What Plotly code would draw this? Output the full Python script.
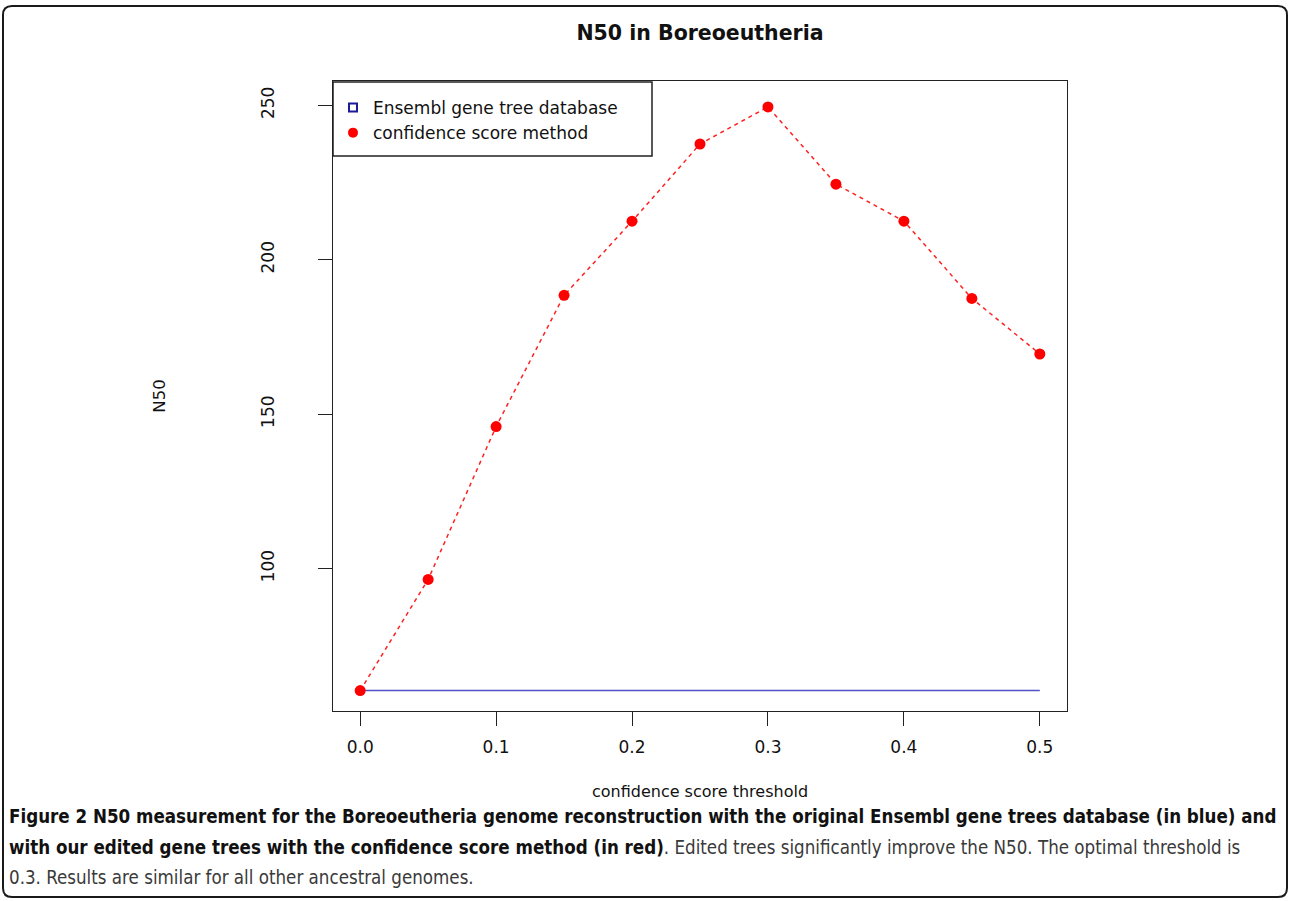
import plotly.graph_objects as go

# ---- data ----
thresholds = [0.0, 0.05, 0.1, 0.15, 0.2, 0.25, 0.3, 0.35, 0.4, 0.45, 0.5]
confidence_n50 = [60.5, 96.5, 146.0, 188.5, 212.5, 237.5, 249.5, 224.5, 212.5, 187.5, 169.5]
ensembl_x = [0.0, 0.5]
ensembl_n50 = [60.5, 60.5]
x_ticks = [0.0, 0.1, 0.2, 0.3, 0.4, 0.5]
x_tick_labels = ["0.0", "0.1", "0.2", "0.3", "0.4", "0.5"]
y_ticks = [100, 150, 200, 250]
y_tick_labels = ["100", "150", "200", "250"]
legend_names = ["Ensembl gene tree database", "confidence score method"]

W, H = 1290, 901
L, R, T, B = 333, 1067, 81, 711
FONT = "DejaVu Sans"

def px_x(p):
    return (p - L) / (R - L)

def px_y(p):
    return (B - p) / (B - T)

fig = go.Figure()

fig.add_trace(go.Scatter(x=ensembl_x, y=ensembl_n50, mode="lines",
                         line=dict(color="#5252c8", width=1.5), showlegend=False,
                         hoverinfo="skip"))
fig.add_trace(go.Scatter(x=thresholds, y=confidence_n50, mode="lines+markers",
                         line=dict(color="#ff2020", width=1.5, dash="4px,4px"),
                         marker=dict(color="#ff0000", size=11), showlegend=False))
# legend-only entries
fig.add_trace(go.Scatter(x=[None], y=[None], mode="markers", name=legend_names[0],
                         marker=dict(symbol="square-open", color="#1a1a9a", size=8,
                                     line=dict(width=2))))
fig.add_trace(go.Scatter(x=[None], y=[None], mode="markers", name=legend_names[1],
                         marker=dict(symbol="circle", color="#ff0000", size=10)))

shapes = []
# legend box
shapes.append(dict(type="rect", xref="paper", yref="paper",
                   x0=px_x(333), x1=px_x(652), y0=px_y(82), y1=px_y(156),
                   line=dict(color="#222", width=1.5), fillcolor="rgba(0,0,0,0)"))
# outer rounded frame
r = 9
x0, x1, y0, y1 = 3, 1287, 6, 897
path = (f"M {px_x(x0)},{px_y(y0 + r)} "
        f"Q {px_x(x0)},{px_y(y0)} {px_x(x0 + r)},{px_y(y0)} "
        f"L {px_x(x1 - r)},{px_y(y0)} "
        f"Q {px_x(x1)},{px_y(y0)} {px_x(x1)},{px_y(y0 + r)} "
        f"L {px_x(x1)},{px_y(y1 - r)} "
        f"Q {px_x(x1)},{px_y(y1)} {px_x(x1 - r)},{px_y(y1)} "
        f"L {px_x(x0 + r)},{px_y(y1)} "
        f"Q {px_x(x0)},{px_y(y1)} {px_x(x0)},{px_y(y1 - r)} Z")
shapes.append(dict(type="path", xref="paper", yref="paper", path=path,
                   line=dict(color="#1a1a1a", width=2)))

CAP = "DejaVu Sans Condensed"
GRAY = "#3a3a3a"
caption_lines = [
    "<b>Figure 2 N50 measurement for the Boreoeutheria genome reconstruction with the original Ensembl gene trees database (in blue) and</b>",
    f"<b>with our edited gene trees with the confidence score method (in red)</b><span style='color:{GRAY}'>. Edited trees significantly improve the N50. The optimal threshold is</span>",
    f"<span style='color:{GRAY}'>0.3. Results are similar for all other ancestral genomes.</span>",
]
caption_y = [816, 847, 877]
annotations = []
for txt, yy in zip(caption_lines, caption_y):
    annotations.append(dict(text=txt, xref="paper", yref="paper", x=px_x(7), y=px_y(yy),
                            xanchor="left", yanchor="middle", showarrow=False,
                            font=dict(family=CAP, size=18.6, color="#111")))

fig.update_layout(
    width=W, height=H,
    margin=dict(l=L, r=W - R, t=T, b=H - B, pad=0),
    paper_bgcolor="white", plot_bgcolor="white",
    font=dict(family=FONT, color="#111", size=16),
    title=dict(text="<b>N50 in Boreoeutheria</b>", x=px_x(700), xref="paper",
               y=1 - 33 / H, yanchor="middle", xanchor="center",
               font=dict(family=FONT, size=20.5, color="#111")),
    xaxis=dict(range=[-0.02, 0.52], tickvals=x_ticks, ticktext=x_tick_labels,
               ticks="outside", ticklen=14, tickwidth=1.3, tickcolor="#222",
               showline=True, linecolor="#222", linewidth=1.3, mirror=True,
               showgrid=False, zeroline=False, ticklabelstandoff=6,
               tickfont=dict(size=17),
               title=dict(text="confidence score threshold", standoff=30,
                          font=dict(size=16))),
    yaxis=dict(range=[53.9, 257.9], tickvals=y_ticks, ticktext=y_tick_labels,
               ticks="outside", ticklen=14, tickwidth=1.3, tickcolor="#222",
               showline=True, linecolor="#222", linewidth=1.3, mirror=True,
               showgrid=False, zeroline=False, tickangle=-90, ticklabelstandoff=37,
               tickfont=dict(size=17),
               title=dict(text="N50", standoff=88, font=dict(size=16.5))),
    legend=dict(x=0.0, y=px_y(90), xanchor="left", yanchor="top",
                bgcolor="rgba(0,0,0,0)", borderwidth=0,
                font=dict(family=FONT, size=17, color="#111"),
                itemclick=False, tracegroupgap=0),
    shapes=shapes,
    annotations=annotations,
)

fig.write_html("out.html", config={"displayModeBar": False},
               post_script="document.body.style.margin='0';")
